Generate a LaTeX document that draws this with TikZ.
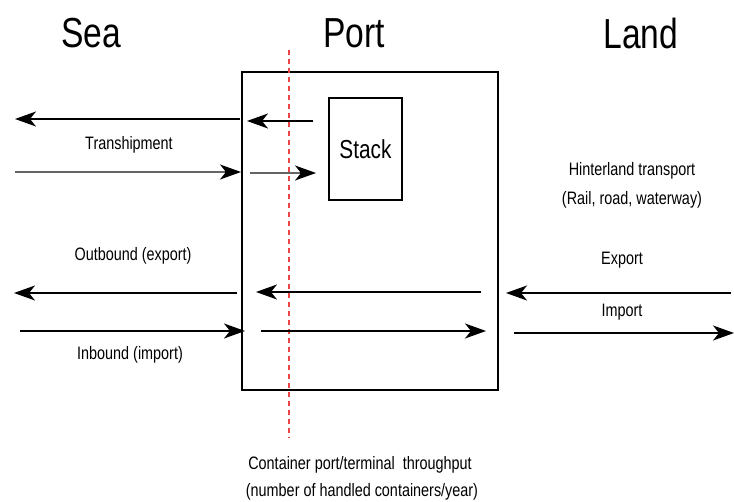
\documentclass[tikz,border=0pt]{standalone}
\usepackage{fontspec}
\setmainfont{Liberation Sans}[FakeStretch=0.8]
\usetikzlibrary{arrows.meta}
\definecolor{redline}{RGB}{235,70,70}
\definecolor{greyline}{RGB}{100,100,100}
\begin{document}
\begin{tikzpicture}[x=1pt,y=-1pt,
  big/.style={font=\fontsize{42}{46}\selectfont, inner sep=0pt},
  lbl/.style={font=\fontsize{18}{20}\selectfont, inner sep=0pt},
  flow/.style={line width=1.8pt, -{Stealth[length=21pt,width=15pt,inset=6pt]}},
  greyshaft/.style={line width=2pt, draw=greyline, shorten >=16pt},
  box/.style={draw, line width=1.3pt, inner sep=0pt}]
\useasboundingbox (0,0) rectangle (734,502);
% titles
\node[big] (sea) at (91,33) {Sea};
\node[big] (port) at (354,33) {Port};
\node[big] (land) at (641,33) {Land};
% port box
\node[box, minimum width=256pt, minimum height=318pt] (portbox) at (370,231) {};
\node[box, minimum width=73pt, minimum height=102pt, font=\fontsize{26}{28}\selectfont] (stack) at (365.5,149) {Stack};
% red dashed line
\coordinate (rtop) at (289,50);
\coordinate (rbot) at (289,438);
\draw[draw=redline, line width=1.3pt, dash pattern=on 5pt off 4pt] (rtop) -- (rbot);
% coordinates of arrow ends
\coordinate (a1s) at (240,119); \coordinate (a1e) at (15,119);
\coordinate (a2s) at (313,121); \coordinate (a2e) at (247,121);
\coordinate (a3s) at (15,172); \coordinate (a3e) at (241,172);
\coordinate (a4s) at (250,173); \coordinate (a4e) at (316,173);
\coordinate (b1s) at (237,293); \coordinate (b1e) at (14,293);
\coordinate (b2s) at (481,292); \coordinate (b2e) at (256,292);
\coordinate (b3s) at (20,331); \coordinate (b3e) at (245,331);
\coordinate (b4s) at (261,331); \coordinate (b4e) at (486,331);
\coordinate (c1s) at (731,293); \coordinate (c1e) at (506,293);
\coordinate (c2s) at (514,333); \coordinate (c2e) at (734,333);
\draw[flow] (a1s) -- (a1e);
\draw[flow] (a2s) -- (a2e);
\draw[flow] (a3s) -- (a3e);
\draw[greyshaft] (a3s) -- (a3e);
\draw[flow] (a4s) -- (a4e);
\draw[greyshaft] (a4s) -- (a4e);
\draw[flow] (b1s) -- (b1e);
\draw[flow] (b2s) -- (b2e);
\draw[flow] (b3s) -- (b3e);
\draw[flow] (b4s) -- (b4e);
\draw[flow] (c1s) -- (c1e);
\draw[flow] (c2s) -- (c2e);
% labels
\node[lbl] (tr) at (129,145) {Transhipment};
\node[lbl] (out) at (133,256) {Outbound (export)};
\node[lbl] (inb) at (130,355) {Inbound (import)};
\node[lbl] (hin1) at (632,171) {Hinterland transport};
\node[lbl] (hin2) at (632,200) {(Rail, road, waterway)};
\node[lbl] (exp) at (622,260) {Export};
\node[lbl] (imp) at (622,312) {Import};
\node[lbl] (thr1) at (360,465) {Container port/terminal\ \ throughput};
\node[lbl] (thr2) at (362,492) {(number of handled containers/year)};
\end{tikzpicture}
\end{document}
